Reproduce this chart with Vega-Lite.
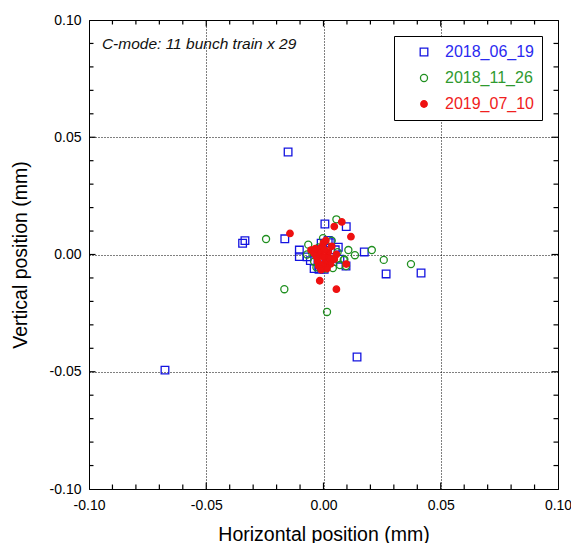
{
  "$schema": "https://vega.github.io/schema/vega-lite/v6.json",
  "width": 469,
  "height": 469,
  "padding": {"left": 10, "top": 13, "right": 10, "bottom": 0},
  "config": {
    "font": "Liberation Sans",
    "view": {"stroke": "black", "strokeWidth": 1},
    "axis": {"labelFont": "Liberation Sans", "titleFont": "Liberation Sans", "labelColor": "black", "titleColor": "black", "labelFontSize": 14, "titleFontSize": 19.5, "titleFontWeight": "normal"}
  },
  "datasets": {
    "ticks": [
      {"t": -0.09, "major": false}, {"t": -0.08, "major": false}, {"t": -0.07, "major": false}, {"t": -0.06, "major": false},
      {"t": -0.05, "major": true}, {"t": -0.04, "major": false}, {"t": -0.03, "major": false}, {"t": -0.02, "major": false},
      {"t": -0.01, "major": false}, {"t": 0, "major": true}, {"t": 0.01, "major": false}, {"t": 0.02, "major": false},
      {"t": 0.03, "major": false}, {"t": 0.04, "major": false}, {"t": 0.05, "major": true}, {"t": 0.06, "major": false},
      {"t": 0.07, "major": false}, {"t": 0.08, "major": false}, {"t": 0.09, "major": false}
    ],
    "pts": [
    {"series": "2018_06_19", "h": -0.0151, "v": 0.0437},
    {"series": "2018_06_19", "h": -0.0345, "v": 0.0048},
    {"series": "2018_06_19", "h": -0.0335, "v": 0.0059},
    {"series": "2018_06_19", "h": -0.0165, "v": 0.0067},
    {"series": "2018_06_19", "h": -0.0103, "v": 0.0019},
    {"series": "2018_06_19", "h": -0.0103, "v": -0.0009},
    {"series": "2018_06_19", "h": -0.0676, "v": -0.0493},
    {"series": "2018_06_19", "h": 0.0143, "v": -0.0437},
    {"series": "2018_06_19", "h": 0.0267, "v": -0.0083},
    {"series": "2018_06_19", "h": 0.0416, "v": -0.0079},
    {"series": "2018_06_19", "h": 0.0006, "v": 0.0130},
    {"series": "2018_06_19", "h": 0.0097, "v": 0.0119},
    {"series": "2018_06_19", "h": 0.0063, "v": 0.0031},
    {"series": "2018_06_19", "h": 0.0174, "v": 0.0011},
    {"series": "2018_06_19", "h": 0.0096, "v": -0.0049},
    {"series": "2018_06_19", "h": 0.0029, "v": 0.0050},
    {"series": "2018_06_19", "h": -0.0019, "v": -0.0063},
    {"series": "2018_06_19", "h": 0.0003, "v": -0.0063},
    {"series": "2018_06_19", "h": -0.0056, "v": -0.0026},
    {"series": "2018_06_19", "h": -0.0010, "v": 0.0048},
    {"series": "2018_06_19", "h": 0.0040, "v": -0.0030},
    {"series": "2018_06_19", "h": -0.0030, "v": 0.0010},
    {"series": "2018_06_19", "h": 0.0010, "v": -0.0040},
    {"series": "2018_06_19", "h": -0.0070, "v": -0.0010},
    {"series": "2018_06_19", "h": 0.0050, "v": 0.0020},
    {"series": "2018_06_19", "h": -0.0020, "v": -0.0050},
    {"series": "2018_06_19", "h": 0.0020, "v": 0.0060},
    {"series": "2018_06_19", "h": -0.0040, "v": -0.0060},
    {"series": "2018_06_19", "h": 0.0070, "v": -0.0020},
    {"series": "2018_11_26", "h": -0.0245, "v": 0.0066},
    {"series": "2018_11_26", "h": -0.0167, "v": -0.0148},
    {"series": "2018_11_26", "h": 0.0015, "v": -0.0245},
    {"series": "2018_11_26", "h": 0.0055, "v": 0.0150},
    {"series": "2018_11_26", "h": 0.0106, "v": 0.0019},
    {"series": "2018_11_26", "h": 0.0134, "v": -0.0003},
    {"series": "2018_11_26", "h": 0.0206, "v": 0.0019},
    {"series": "2018_11_26", "h": 0.0257, "v": -0.0023},
    {"series": "2018_11_26", "h": 0.0373, "v": -0.0041},
    {"series": "2018_11_26", "h": 0.0089, "v": -0.0021},
    {"series": "2018_11_26", "h": -0.0065, "v": 0.0042},
    {"series": "2018_11_26", "h": -0.0002, "v": 0.0070},
    {"series": "2018_11_26", "h": 0.0035, "v": 0.0059},
    {"series": "2018_11_26", "h": 0.0086, "v": -0.0023},
    {"series": "2018_11_26", "h": 0.0096, "v": -0.0049},
    {"series": "2018_11_26", "h": -0.0070, "v": 0.0000},
    {"series": "2018_11_26", "h": 0.0040, "v": -0.0058},
    {"series": "2018_11_26", "h": -0.0002, "v": -0.0058},
    {"series": "2018_11_26", "h": 0.0020, "v": -0.0040},
    {"series": "2018_11_26", "h": -0.0040, "v": -0.0030},
    {"series": "2018_11_26", "h": 0.0060, "v": 0.0010},
    {"series": "2018_11_26", "h": -0.0020, "v": 0.0030},
    {"series": "2018_11_26", "h": 0.0010, "v": -0.0060},
    {"series": "2018_11_26", "h": -0.0050, "v": 0.0010},
    {"series": "2018_11_26", "h": 0.0030, "v": -0.0020},
    {"series": "2018_11_26", "h": -0.0030, "v": -0.0055},
    {"series": "2018_11_26", "h": 0.0070, "v": -0.0045},
    {"series": "2018_11_26", "h": 0.0010, "v": 0.0040},
    {"series": "2018_11_26", "h": -0.0010, "v": -0.0030},
    {"series": "2019_07_10", "h": -0.0143, "v": 0.0090},
    {"series": "2019_07_10", "h": 0.0117, "v": 0.0076},
    {"series": "2019_07_10", "h": 0.0097, "v": -0.0041},
    {"series": "2019_07_10", "h": 0.0055, "v": -0.0148},
    {"series": "2019_07_10", "h": 0.0078, "v": 0.0139},
    {"series": "2019_07_10", "h": 0.0046, "v": 0.0119},
    {"series": "2019_07_10", "h": -0.0016, "v": -0.0112},
    {"series": "2019_07_10", "h": -0.0053, "v": 0.0019},
    {"series": "2019_07_10", "h": 0.0055, "v": 0.0000},
    {"series": "2019_07_10", "h": 0.0046, "v": -0.0020},
    {"series": "2019_07_10", "h": -0.0030, "v": -0.0010},
    {"series": "2019_07_10", "h": -0.0010, "v": 0.0030},
    {"series": "2019_07_10", "h": 0.0010, "v": -0.0030},
    {"series": "2019_07_10", "h": -0.0020, "v": -0.0050},
    {"series": "2019_07_10", "h": 0.0020, "v": 0.0010},
    {"series": "2019_07_10", "h": -0.0040, "v": 0.0005},
    {"series": "2019_07_10", "h": 0.0000, "v": 0.0050},
    {"series": "2019_07_10", "h": 0.0030, "v": -0.0040},
    {"series": "2019_07_10", "h": -0.0015, "v": 0.0010},
    {"series": "2019_07_10", "h": 0.0015, "v": -0.0060},
    {"series": "2019_07_10", "h": -0.0025, "v": -0.0030},
    {"series": "2019_07_10", "h": 0.0005, "v": 0.0020},
    {"series": "2019_07_10", "h": 0.0035, "v": 0.0035},
    {"series": "2019_07_10", "h": -0.0005, "v": -0.0045},
    {"series": "2019_07_10", "h": 0.0025, "v": -0.0015},
    {"series": "2019_07_10", "h": -0.0035, "v": 0.0025},
    {"series": "2019_07_10", "h": 0.0000, "v": -0.0010},
    {"series": "2019_07_10", "h": 0.0010, "v": 0.0060},
    {"series": "2019_07_10", "h": -0.0010, "v": -0.0065}
    ]
  },
  "layer": [
    {
      "data": {"name": "ticks"},
      "mark": {"type": "tick", "orient": "vertical", "thickness": 1.2, "color": "black", "opacity": 1, "clip": true},
      "encoding": {
        "x": {"field": "t", "type": "quantitative", "scale": {"domain": [-0.1, 0.1], "nice": false, "zero": false}},
        "y": {"datum": -0.1, "type": "quantitative", "scale": {"domain": [-0.1, 0.1], "nice": false, "zero": false}},
        "size": {"condition": {"test": "datum.major", "value": 13}, "value": 9}
      }
    },
    {
      "data": {"name": "ticks"},
      "mark": {"type": "tick", "orient": "vertical", "thickness": 1.2, "color": "black", "opacity": 1, "clip": true},
      "encoding": {
        "x": {"field": "t", "type": "quantitative"},
        "y": {"datum": 0.1, "type": "quantitative"},
        "size": {"condition": {"test": "datum.major", "value": 13}, "value": 9}
      }
    },
    {
      "data": {"name": "ticks"},
      "mark": {"type": "tick", "orient": "horizontal", "thickness": 1.2, "color": "black", "opacity": 1, "clip": true},
      "encoding": {
        "y": {"field": "t", "type": "quantitative"},
        "x": {"datum": -0.1, "type": "quantitative"},
        "size": {"condition": {"test": "datum.major", "value": 13}, "value": 9}
      }
    },
    {
      "data": {"name": "ticks"},
      "mark": {"type": "tick", "orient": "horizontal", "thickness": 1.2, "color": "black", "opacity": 1, "clip": true},
      "encoding": {
        "y": {"field": "t", "type": "quantitative"},
        "x": {"datum": 0.1, "type": "quantitative"},
        "size": {"condition": {"test": "datum.major", "value": 13}, "value": 9}
      }
    },
    {
      "data": {"name": "pts"},
      "mark": {"type": "point", "filled": false, "strokeWidth": 1.3, "opacity": 1},
      "encoding": {
        "x": {"field": "h", "type": "quantitative", "scale": {"domain": [-0.1, 0.1], "nice": false, "zero": false},
          "axis": {"orient": "bottom", "title": "Horizontal position (mm)", "values": [-0.1, -0.05, 0, 0.05, 0.1],
            "labelExpr": "replace(format(datum.value, '.2f'), '\u2212', '-')", "domain": false,
            "labelOverlap": false, "labelFlush": false, "ticks": false, "labelPadding": 9,
            "grid": true, "gridColor": "black", "gridDash": [1, 2], "gridWidth": 1, "gridOpacity": 1,
            "titlePadding": 13}},
        "y": {"field": "v", "type": "quantitative", "scale": {"domain": [-0.1, 0.1], "nice": false, "zero": false},
          "axis": {"orient": "left", "title": "Vertical position (mm)", "values": [-0.1, -0.05, 0, 0.05, 0.1],
            "labelExpr": "replace(format(datum.value, '.2f'), '\u2212', '-')", "domain": false,
            "labelOverlap": false, "labelFlush": false, "ticks": false, "labelPadding": 8,
            "grid": true, "gridColor": "black", "gridDash": [1, 2], "gridWidth": 1, "gridOpacity": 1,
            "titlePadding": 19}},
        "color": {"field": "series", "type": "nominal", "scale": {"domain": ["2018_06_19", "2018_11_26", "2019_07_10"], "range": ["#1414e0", "#1f8f1f", "#ee1111"]},
          "legend": {"title": null, "orient": "top-right", "offset": 16, "strokeColor": "black", "fillColor": "white", "padding": 8, "labelFontSize": 16, "labelFont": "Liberation Sans", "rowPadding": 10, "symbolOffset": 14, "labelOffset": 13, "symbolStrokeWidth": 1.3,
            "labelColor": {"expr": "datum.value == '2018_06_19' ? '#2a2af0' : datum.value == '2018_11_26' ? '#2f9a2f' : '#f02020'"}}},
        "fill": {"field": "series", "type": "nominal", "scale": {"domain": ["2018_06_19", "2018_11_26", "2019_07_10"], "range": ["transparent", "transparent", "#ee1111"]}, "legend": {"title": null}},
        "shape": {"field": "series", "type": "nominal", "scale": {"domain": ["2018_06_19", "2018_11_26", "2019_07_10"], "range": ["square", "circle", "circle"]}, "legend": {"title": null}},
        "size": {"field": "series", "type": "nominal", "scale": {"domain": ["2018_06_19", "2018_11_26", "2019_07_10"], "range": [58, 42, 20]}, "legend": {"title": null}}
      }
    },
    {
      "data": {"values": [{"note": "C-mode: 11 bunch train x 29"}]},
      "mark": {"type": "text", "align": "left", "baseline": "middle", "fontStyle": "italic", "fontWeight": "normal", "fontSize": 15.5, "font": "Liberation Sans", "fill": "#111111"},
      "encoding": {
        "x": {"datum": -0.0945, "type": "quantitative"},
        "y": {"datum": 0.0898, "type": "quantitative"},
        "text": {"field": "note", "type": "nominal"}
      }
    }
  ]
}
